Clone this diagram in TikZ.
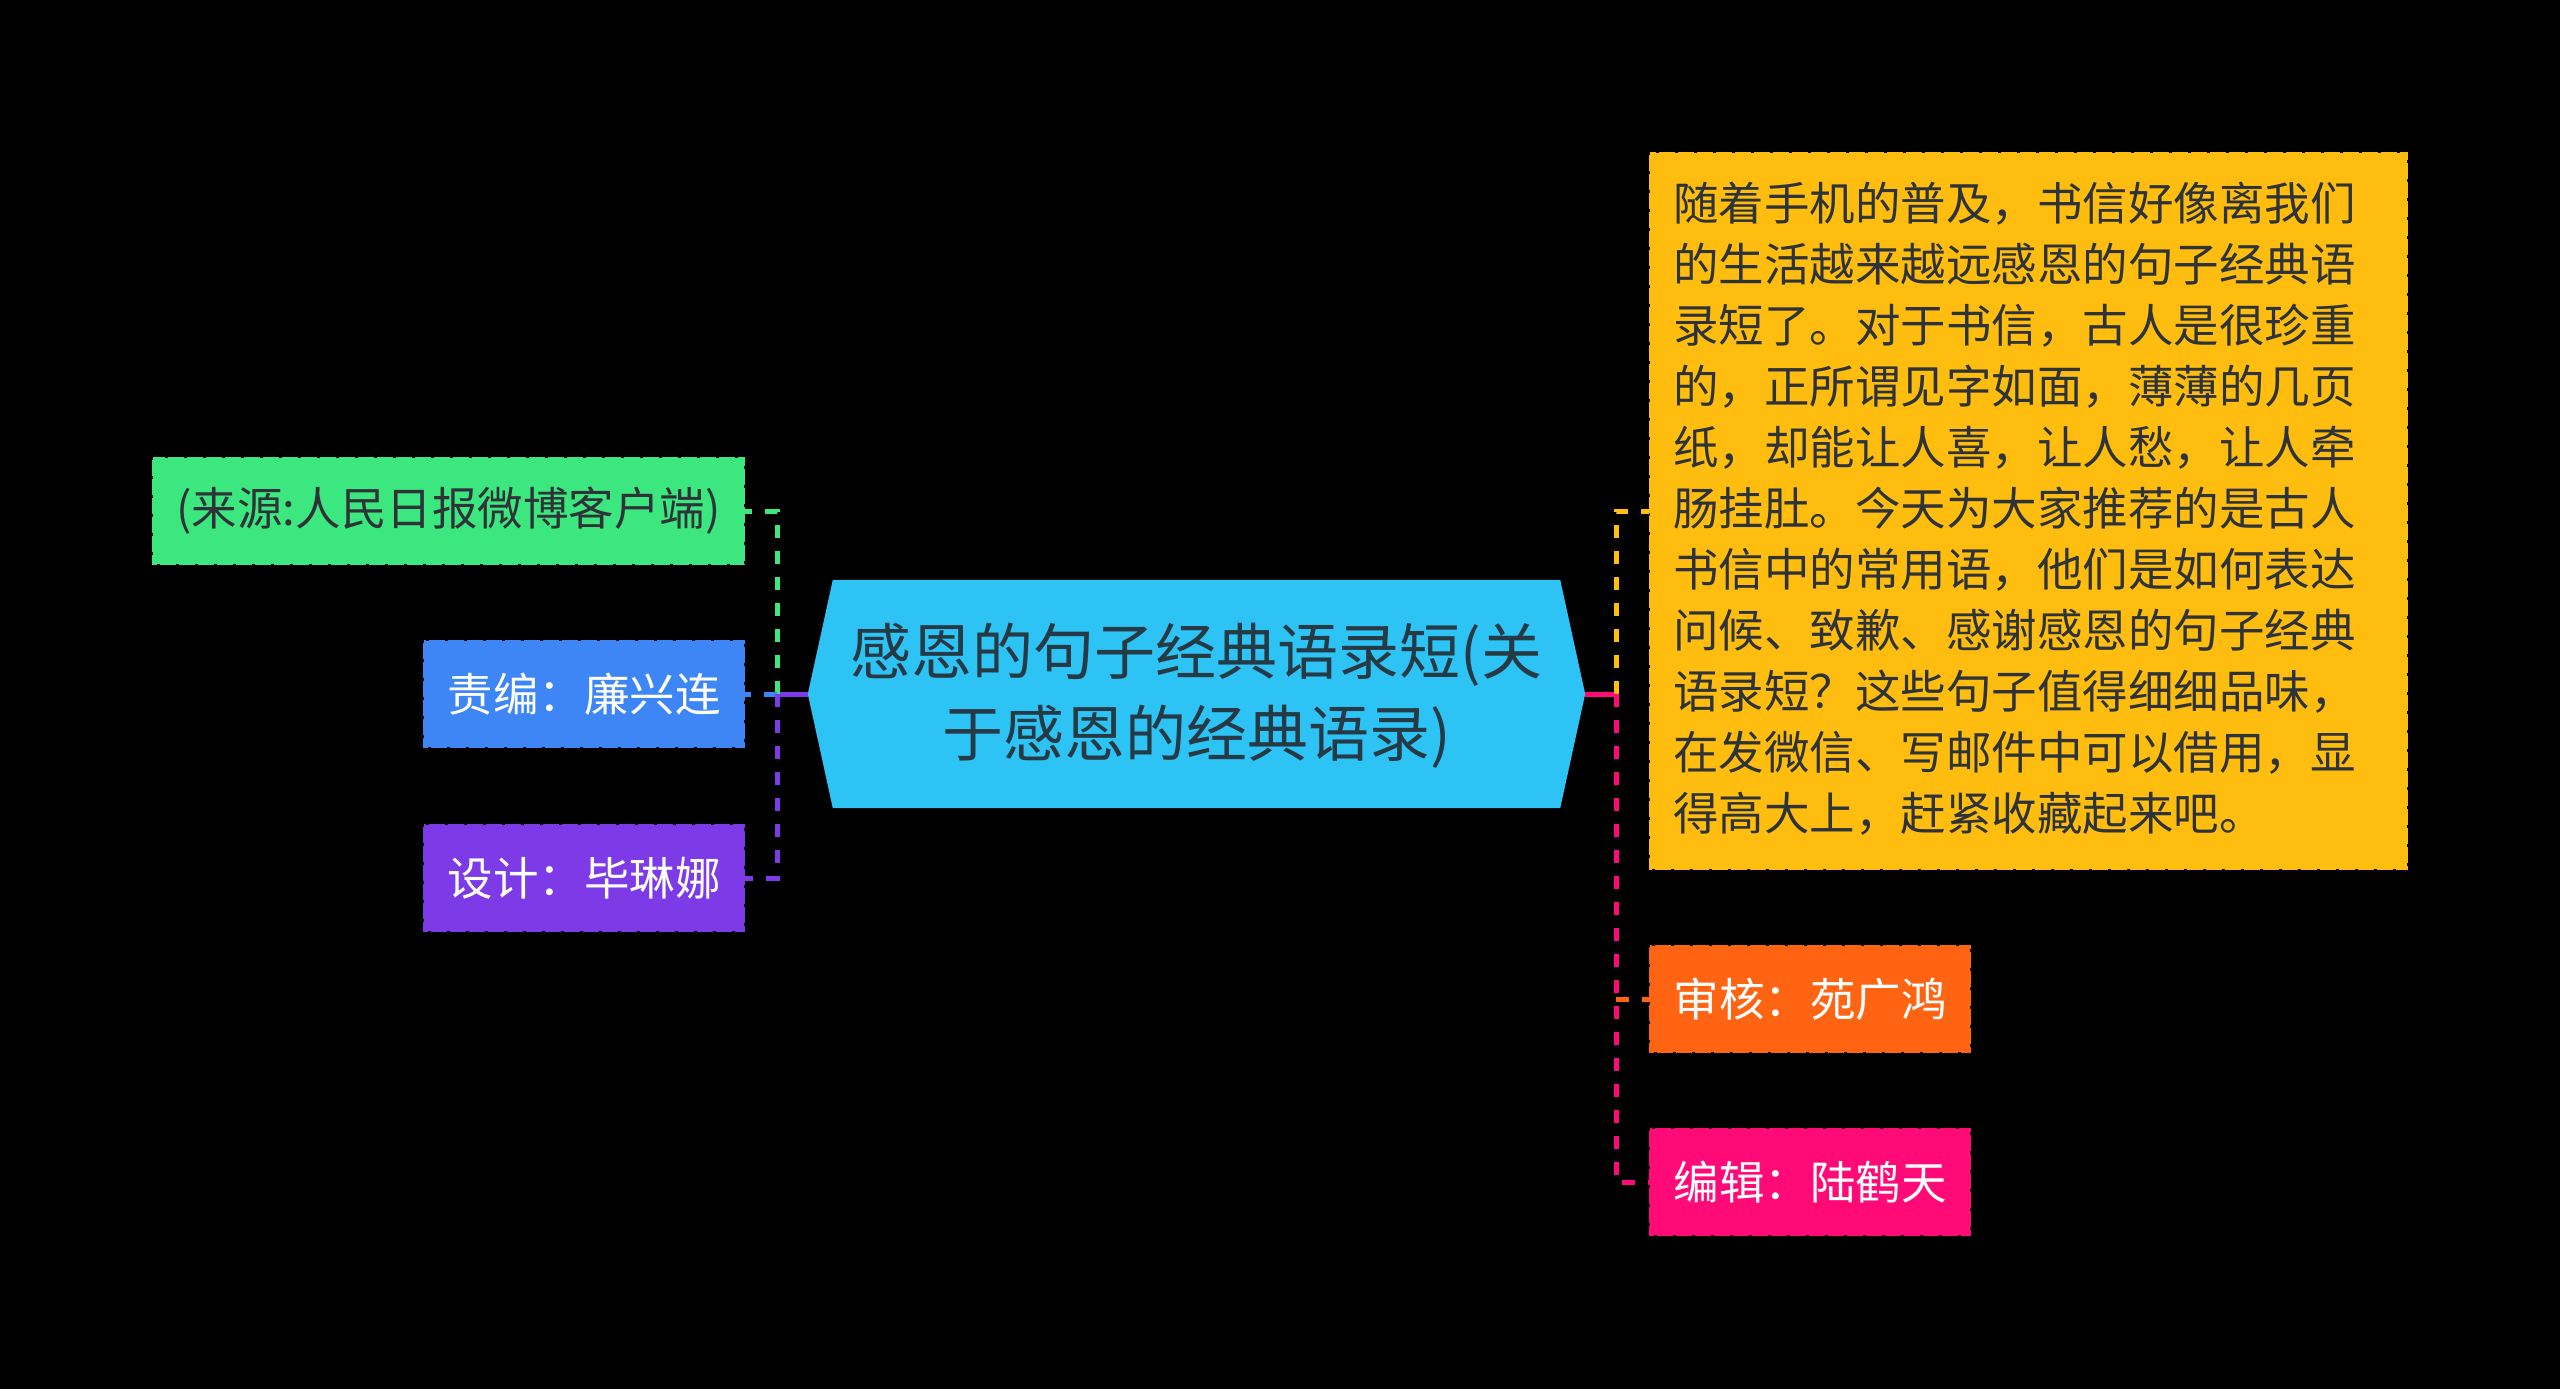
\documentclass[tikz,border=0pt]{standalone}
\usepackage{fontspec}
\newfontfamily\cjk{Noto Sans CJK SC}
\definecolor{cgreen}{HTML}{3DE77F}
\definecolor{cblue}{HTML}{3E86F5}
\definecolor{cpurple}{HTML}{7C3BE6}
\definecolor{ccyan}{HTML}{2EC3F5}
\definecolor{cyellow}{HTML}{FFBD10}
\definecolor{corange}{HTML}{FF6412}
\definecolor{cpink}{HTML}{FF0A76}
\definecolor{darktext}{HTML}{2E3338}
\definecolor{roottext}{HTML}{263A45}
\tikzset{
  leafbox/.style={rectangle, inner sep=0pt, minimum height=108pt, font=\cjk\fontsize{45.5}{56}\selectfont},
  edgeline/.style={black, line width=1.6pt, dash pattern=on 3pt off 16pt},
  conn/.style={line width=5pt, dash pattern=on 13pt off 13pt},
  solidconn/.style={line width=5pt}
}
\begin{document}
\begin{tikzpicture}[x=1pt,y=-1pt]
\useasboundingbox (0,0) rectangle (2560,1389);
\fill[black] (0,0) rectangle (2560,1389);

% left leaves
\node[leafbox, fill=cgreen, text=darktext, minimum width=593pt] (src) at (448.5,511) {(来源:人民日报微博客户端)};
\node[leafbox, fill=cblue, text=white, minimum width=322pt] (zb) at (584,694) {责编：廉兴连};
\node[leafbox, fill=cpurple, text=white, minimum width=322pt] (sj) at (584,878) {设计：毕琳娜};

% right leaves
\node[rectangle, fill=cyellow, inner sep=0pt, minimum width=759pt, minimum height=718pt] (intro) at (2028.5,511) {};
\node[anchor=west, inner sep=0pt, align=left, text=darktext, font=\cjk\fontsize{45.5}{61}\selectfont] (introtext) at (1673,509) {随着手机的普及，书信好像离我们\\的生活越来越远感恩的句子经典语\\录短了。对于书信，古人是很珍重\\的，正所谓见字如面，薄薄的几页\\纸，却能让人喜，让人愁，让人牵\\肠挂肚。今天为大家推荐的是古人\\书信中的常用语，他们是如何表达\\问候、致歉、感谢感恩的句子经典\\语录短？这些句子值得细细品味，\\在发微信、写邮件中可以借用，显\\得高大上，赶紧收藏起来吧。};
\node[leafbox, fill=corange, text=white, minimum width=322pt] (sh) at (1810,999) {审核：苑广鸿};
\node[leafbox, fill=cpink, text=white, minimum width=322pt] (bj) at (1810,1182) {编辑：陆鹤天};

% dashed outlines of leaves
\foreach \n in {src,zb,sj,intro,sh,bj}{
  \draw[edgeline] (\n.north west) rectangle (\n.south east);
}

% root hexagon
\node[inner sep=0pt, minimum width=777pt, minimum height=228pt] (root) at (1196.5,694) {};
\fill[ccyan] (root.west) -- ([xshift=25pt]root.north west) -- ([xshift=-25pt]root.north east) -- (root.east) -- ([xshift=-25pt]root.south east) -- ([xshift=25pt]root.south west) -- cycle;
\node[align=center, inner sep=0pt, text=roottext, font=\cjk\fontsize{61}{82}\selectfont] (roottxt) at ([yshift=-2pt]root.center) {感恩的句子经典语录短(关\\于感恩的经典语录)};

% connector junctions
\coordinate (lj) at (777,694);
\coordinate (rj) at (1616,694);

% left connectors
\draw[solidconn, cpurple] (root.west) -- (lj);
\draw[conn, cgreen] (lj) |- (src.east);
\draw[conn, cblue] (lj) -- (zb.east);
\draw[conn, cpurple] (lj) |- (sj.east);

% right connectors
\draw[solidconn, cpink] (root.east) -- (rj);
\draw[conn, cyellow] (rj) |- (intro.west);
\draw[conn, cpink] (rj) |- (bj.west);
\draw[conn, corange] (rj |- sh.west) -- (sh.west);
\end{tikzpicture}
\end{document}
